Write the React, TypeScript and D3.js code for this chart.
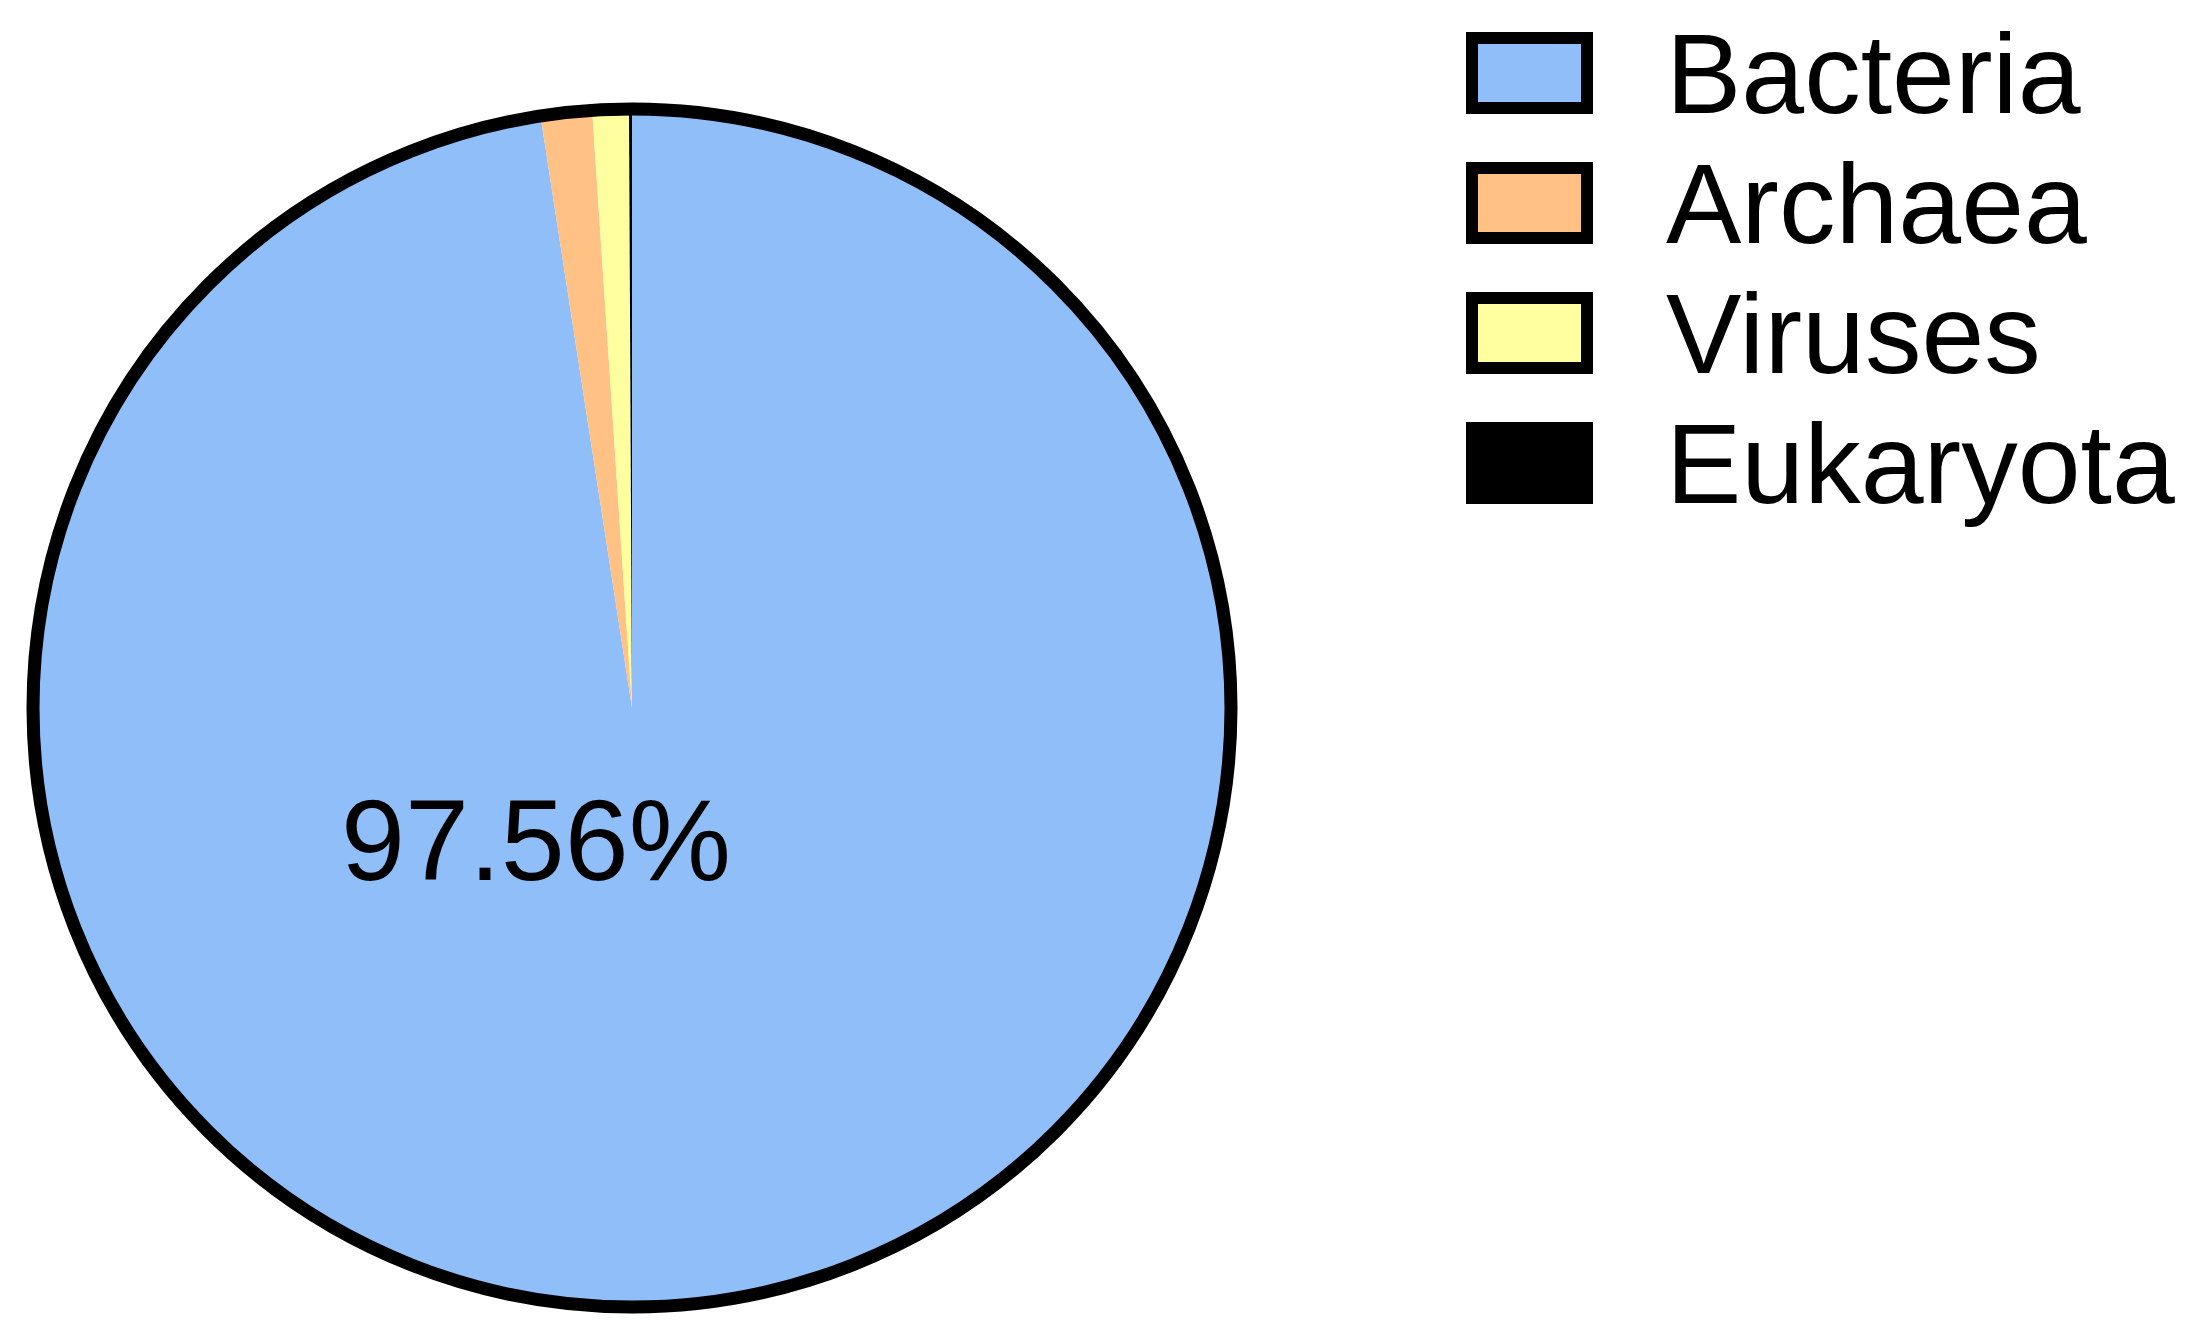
import React from 'react';
import * as d3 from 'd3';

const categories = ['Bacteria', 'Archaea', 'Viruses', 'Eukaryota'];
const shares = [97.56, 1.38, 0.98, 0.08];
const colors = ['#8FBEF8', '#FFC184', '#FFFF9F', '#000000'];
const bigLabel = '97.56%';

const W = 2188;
const H = 1335;

export default function App() {
  const cx = 632;
  const cy = 708;
  const radius = 599;

  const data = categories.map((name, i) => ({ name, value: shares[i], color: colors[i] }));
  const pie = d3.pie<any>().sort(null).value(d => d.value).startAngle(0).endAngle(2 * Math.PI);
  const arcs = pie(data);
  const arc = d3.arc<any>().innerRadius(0).outerRadius(radius);

  // legend layout
  const legX = 1466;
  const legY = 32;
  const legStep = 130;
  const boxW = 127;
  const boxH = 82;
  const inset = 12;

  return (
    <svg
      width={W}
      height={H}
      style={{ position: 'absolute', left: 0, top: 0, background: '#fff' }}
      fontFamily="'Liberation Sans', Arial, sans-serif"
    >
      <g transform={`translate(${cx},${cy})`}>
        {arcs.map(a => (
          <path key={a.data.name} d={arc(a) || ''} fill={a.data.color} />
        ))}
        <circle r={radius} fill="none" stroke="#000" strokeWidth={13} />
        <text x={-96} y={172} textAnchor="middle" fontSize={115} fill="#000">
          {bigLabel}
        </text>
      </g>

      {data.map((d, i) => {
        const y = legY + i * legStep;
        return (
          <g key={d.name}>
            <rect x={legX} y={y} width={boxW} height={boxH} fill="#000" />
            <rect
              x={legX + inset}
              y={y + inset}
              width={boxW - 2 * inset}
              height={boxH - 2 * inset}
              fill={d.color}
            />
            <text x={1666} y={y + 81} fontSize={113} fill="#000">
              {d.name}
            </text>
          </g>
        );
      })}
    </svg>
  );
}
